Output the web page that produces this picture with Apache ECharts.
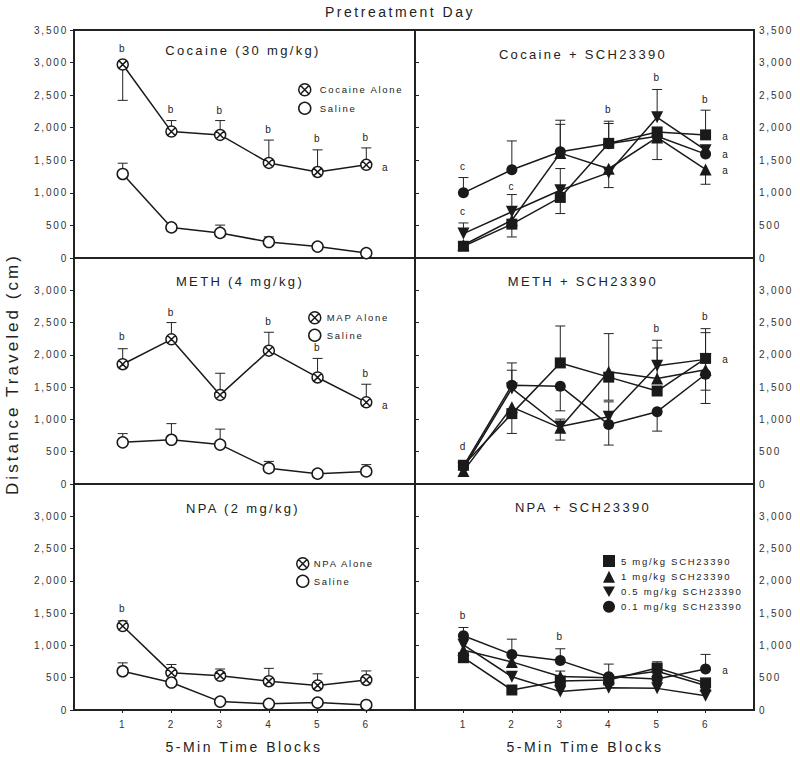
<!DOCTYPE html>
<html><head><meta charset="utf-8">
<script src="https://cdn.jsdelivr.net/npm/echarts@6/dist/echarts.min.js"></script>
<style>
html,body{margin:0;padding:0;background:#fff;}
#chart{width:800px;height:758px;}
#chart text{letter-spacing:0.18em;}
</style></head><body><div id="chart"></div>
<script>
// ---------- data ----------
const blocks = [1, 2, 3, 4, 5, 6];
const yTicksAll = [0, 500, 1000, 1500, 2000, 2500, 3000, 3500];
const yLabelsTop = [0, 500, 1000, 1500, 2000, 2500, 3000, 3500];
const yLabelsLower = [0, 500, 1000, 1500, 2000, 2500, 3000];

const panelTitles = ['Cocaine (30 mg/kg)', 'Cocaine + SCH23390', 'METH (4 mg/kg)', 'METH + SCH23390', 'NPA (2 mg/kg)', 'NPA + SCH23390'];
const doseNames = ['5 mg/kg SCH23390', '1 mg/kg SCH23390', '0.5 mg/kg SCH23390', '0.1 mg/kg SCH23390'];

// Cocaine (30 mg/kg)
const cocaineAlone = [2970, 1940, 1890, 1460, 1320, 1430];
const cocaineAloneErr = [2420, 2110, 2110, 1810, 1660, 1690];
const cocaineSaline = [1290, 470, 385, 245, 175, 75];
const cocaineSalineErr = [1455, null, 505, 325, null, null];
const cocaineLetters = [[1, 3221, 'b'], [2, 2284, 'b'], [3, 2269, 'b'], [4, 1977, 'b'], [5, 1839, 'b'], [6, 1854, 'b'], [6.4, 1393, 'a']];

// Cocaine + SCH23390
const cocSch5 = [180, 520, 930, 1760, 1935, 1890];
const cocSch1 = [200, 580, 1610, 1370, 1850, 1360];
const cocSch05 = [375, 710, 1040, 1310, 2160, 1655];
const cocSch01 = [1000, 1355, 1630, 1755, 1870, 1595];
const cocSch5Err = [null, 323, 682, 2100, null, 2269];
const cocSch1Err = [null, null, 2052, null, 1511, 1132];
const cocSch05Err = [538, 974, 1373, 1081, 2587, null];
const cocSch01Err = [1235, 1797, 2115, 2065, null, null];
const cocSchLetters = [[1, 1409, 'c'], [1, 707, 'c'], [2, 1101, 'c'], [4, 2284, 'b'], [5, 2771, 'b'], [6, 2438, 'b'], [6.42, 1859, 'a'], [6.42, 1593, 'a'], [6.42, 1336, 'a']];

// METH (4 mg/kg)
const mapAlone = [1855, 2240, 1380, 2065, 1650, 1265];
const mapAloneErr = [2095, 2500, 1715, 2350, 1945, 1545];
const methSaline = [645, 685, 610, 245, 160, 195];
const methSalineErr = [780, 935, 850, 350, null, 300];
const methLetters = [[1, 2287, 'b'], [2, 2658, 'b'], [4, 2519, 'b'], [5, 2117, 'b'], [6, 1716, 'b'], [6.4, 1221, 'a']];

// METH + SCH23390
const methSch5 = [290, 1090, 1875, 1655, 1440, 1945];
const methSch1 = [200, 1190, 870, 1740, 1635, 1770];
const methSch05 = [240, 1480, 890, 1040, 1830, 1930];
const methSch01 = [275, 1530, 1515, 920, 1120, 1700];
const methSch5Err = [null, 783, 2447, 2329, null, 2406];
const methSch1Err = [null, null, 680, 1298, 2107, 1453];
const methSch05Err = [null, 1762, 1005, 1272, 2226, 2344];
const methSch01Err = [null, 1875, 1133, 603, 819, 1247];
const methSchLetters = [[1, 577, 'd'], [5, 2407, 'b'], [6, 2601, 'b'], [6.42, 1932, 'a']];

// NPA (2 mg/kg)
const npaAlone = [1300, 575, 530, 445, 380, 465];
const npaAloneErr = [1380, 705, 635, 645, 560, 605];
const npaSaline = [600, 425, 130, 95, 115, 78];
const npaSalineErr = [730, null, null, null, null, null];
const npaLetters = [[1, 1577, 'b']];

// NPA + SCH23390
const npaSch5 = [810, 310, 450, 465, 650, 420];
const npaSch1 = [930, 745, 520, 500, 600, 380];
const npaSch05 = [1010, 515, 285, 345, 335, 220];
const npaSch01 = [1150, 860, 765, 515, 480, 635];
const npaSch5Err = [null, null, null, null, 747, null];
const npaSch1Err = [null, null, 603, null, null, null];
const npaSch05Err = [null, null, null, null, null, null];
const npaSch01Err = [1278, 1097, 948, 711, null, 861];
const npaSchLetters = [[1, 1468, 'b'], [3, 1144, 'b'], [6.42, 618, 'a']];

// ---------- styling ----------
const FONT = '"Liberation Sans", Arial, Helvetica, sans-serif';
const INK = '#1a1a1a';
const XCIRCLE = 'path://M10,0 A10,10 0 1,1 -10,0 A10,10 0 1,1 10,0 Z M-7.07,-7.07 L7.07,7.07 M-7.07,7.07 L7.07,-7.07';
const TRIDOWN = 'path://M0,0 L12,0 L6,10.4 Z';
const schSymbols = [
  {symbol: 'rect', size: 11},
  {symbol: 'triangle', size: 12},
  {symbol: TRIDOWN, size: 12},
  {symbol: 'circle', size: 11}
];

const grids = [
  {left: 74, top: 30, width: 341, height: 228},
  {left: 415, top: 30, width: 339, height: 228},
  {left: 74, top: 258, width: 341, height: 226},
  {left: 415, top: 258, width: 339, height: 226},
  {left: 74, top: 484, width: 341, height: 226},
  {left: 415, top: 484, width: 339, height: 226}
].map(g => Object.assign(g, {show: true, borderColor: '#222', borderWidth: 2, backgroundColor: 'transparent'}));

const xAxes = grids.map((g, i) => {
  const bottom = i >= 4;
  return {
    type: 'value', gridIndex: i, min: 0, max: 7, interval: 1,
    axisLine: {show: false}, splitLine: {show: false},
    axisTick: {show: bottom, customValues: blocks, length: 3, lineStyle: {color: '#222', width: 1}},
    axisLabel: {show: bottom, customValues: blocks, fontSize: 10, color: '#333', fontFamily: FONT, margin: 9}
  };
});

const yAxes = grids.map((g, i) => {
  const right = i % 2 === 1;
  return {
    type: 'value', gridIndex: i, min: 0, max: 3500, interval: 500,
    position: right ? 'right' : 'left',
    axisLine: {show: true, lineStyle: {color: '#222', width: 2}},
    splitLine: {show: false},
    axisTick: {show: true, customValues: yTicksAll, length: 4, lineStyle: {color: '#222', width: 1}},
    axisLabel: {
      show: true, customValues: i < 2 ? yLabelsTop : yLabelsLower,
      fontSize: 10, color: '#333', fontFamily: FONT, margin: right ? 5 : 6,
      formatter: v => v.toLocaleString('en-US')
    }
  };
});

function pairs(vals) { return blocks.map((b, i) => [b, vals[i]]); }

function lineSeries(name, idx, vals, symbol, size, fill, bw) {
  return {
    type: 'line', name, xAxisIndex: idx, yAxisIndex: idx, data: pairs(vals),
    symbol, symbolSize: size, showSymbol: true, z: 3, silent: true,
    itemStyle: {color: fill, borderColor: INK, borderWidth: bw},
    lineStyle: {color: INK, width: 1.5},
    emphasis: {disabled: true}
  };
}

function errSeries(idx, means, ends) {
  const data = [];
  blocks.forEach((b, i) => { if (ends[i] != null) data.push([b, means[i], ends[i]]); });
  return {
    type: 'custom', xAxisIndex: idx, yAxisIndex: idx, z: 1, silent: true, data,
    encode: {x: 0, y: [1, 2]},
    renderItem: (params, api) => {
      const p0 = api.coord([api.value(0), api.value(1)]);
      const p1 = api.coord([api.value(0), api.value(2)]);
      const st = {stroke: '#222', lineWidth: 1};
      return {type: 'group', children: [
        {type: 'line', shape: {x1: p0[0], y1: p0[1], x2: p1[0], y2: p1[1]}, style: st},
        {type: 'line', shape: {x1: p1[0] - 5, y1: p1[1], x2: p1[0] + 5, y2: p1[1]}, style: st}
      ]};
    }
  };
}

function letterSeries(idx, letters) {
  return {
    type: 'custom', xAxisIndex: idx, yAxisIndex: idx, z: 5, silent: true,
    data: letters.map(l => [l[0], l[1]]),
    renderItem: (params, api) => {
      const p = api.coord([api.value(0), api.value(1)]);
      return {type: 'text', x: p[0], y: p[1], style: {
        text: letters[params.dataIndex][2], fill: '#222', fontSize: 10, fontFamily: FONT,
        textAlign: 'center', textVerticalAlign: 'middle'
      }};
    }
  };
}

function drugPanel(idx, aloneName, alone, aloneErr, saline, salineErr, letters) {
  return [
    errSeries(idx, alone, aloneErr),
    errSeries(idx, saline, salineErr),
    lineSeries(aloneName, idx, alone, XCIRCLE, 11, '#fff', 1.5),
    lineSeries('Saline', idx, saline, 'circle', 11, '#fff', 1.5),
    letterSeries(idx, letters)
  ];
}

function schPanel(idx, sets, errs, letters) {
  const out = [];
  sets.forEach((vals, k) => out.push(errSeries(idx, vals, errs[k])));
  sets.forEach((vals, k) => out.push(lineSeries(doseNames[k], idx, vals, schSymbols[k].symbol, schSymbols[k].size, INK, 0)));
  out.push(letterSeries(idx, letters));
  return out;
}

const series = [].concat(
  drugPanel(0, 'Cocaine Alone', cocaineAlone, cocaineAloneErr, cocaineSaline, cocaineSalineErr, cocaineLetters),
  schPanel(1, [cocSch5, cocSch1, cocSch05, cocSch01], [cocSch5Err, cocSch1Err, cocSch05Err, cocSch01Err], cocSchLetters),
  drugPanel(2, 'MAP Alone', mapAlone, mapAloneErr, methSaline, methSalineErr, methLetters),
  schPanel(3, [methSch5, methSch1, methSch05, methSch01], [methSch5Err, methSch1Err, methSch05Err, methSch01Err], methSchLetters),
  drugPanel(4, 'NPA Alone', npaAlone, npaAloneErr, npaSaline, npaSalineErr, npaLetters),
  schPanel(5, [npaSch5, npaSch1, npaSch05, npaSch01], [npaSch5Err, npaSch1Err, npaSch05Err, npaSch01Err], npaSchLetters)
);

const openStyle = {color: '#fff', borderColor: INK, borderWidth: 1.5};
function drugLegend(left, top, gap, pad, aloneName) {
  return {
    left, top, orient: 'vertical', itemWidth: 12, itemHeight: 12, itemGap: gap, selectedMode: false,
    data: [{name: aloneName, icon: XCIRCLE, itemStyle: openStyle}, {name: 'Saline', icon: 'circle', itemStyle: openStyle}],
    textStyle: {fontSize: 9.5, color: '#222', fontFamily: FONT, padding: [0, 0, 0, pad]}
  };
}
const legends = [
  drugLegend(293, 78, 5, 4, 'Cocaine Alone'),
  drugLegend(303, 306, 4, 1, 'MAP Alone'),
  drugLegend(291, 552, 4, 0, 'NPA Alone'),
  {
    left: 598, top: 550, orient: 'vertical', itemWidth: 12, itemHeight: 12, itemGap: 3.8, selectedMode: false,
    data: doseNames.map((n, k) => ({name: n, icon: schSymbols[k].symbol, itemStyle: {color: INK, borderWidth: 0}})),
    textStyle: {fontSize: 9.5, color: '#222', fontFamily: FONT, padding: [0, 0, 0, 1]}
  }
];

const titlePos = [[243, 50], [583, 54], [240, 281], [583, 281], [243, 508], [583, 507]];
const graphics = panelTitles.map((t, i) => ({
  type: 'text', x: titlePos[i][0], y: titlePos[i][1], silent: true,
  style: {text: t, fill: '#222', fontSize: 13, fontFamily: FONT, textAlign: 'center', textVerticalAlign: 'middle'}
}));
graphics.push({type: 'text', x: 400, y: 12, silent: true,
  style: {text: 'Pretreatment Day', fill: '#222', fontSize: 14, fontFamily: FONT, textAlign: 'center', textVerticalAlign: 'middle'}});
graphics.push({type: 'text', x: 12, y: 374, rotation: Math.PI / 2, silent: true,
  style: {text: 'Distance Traveled (cm)', fill: '#222', fontSize: 17, fontFamily: FONT, textAlign: 'center', textVerticalAlign: 'middle'}});
[[244, 747], [585, 747]].forEach(p => graphics.push({type: 'text', x: p[0], y: p[1], silent: true,
  style: {text: '5-Min Time Blocks', fill: '#222', fontSize: 14, fontFamily: FONT, textAlign: 'center', textVerticalAlign: 'middle'}}));

const chart = echarts.init(document.getElementById('chart'), null, {renderer: 'svg'});
chart.setOption({
  animation: false,
  backgroundColor: '#fff',
  grid: grids,
  xAxis: xAxes,
  yAxis: yAxes,
  legend: legends,
  graphic: graphics,
  series
});
</script></body></html>
